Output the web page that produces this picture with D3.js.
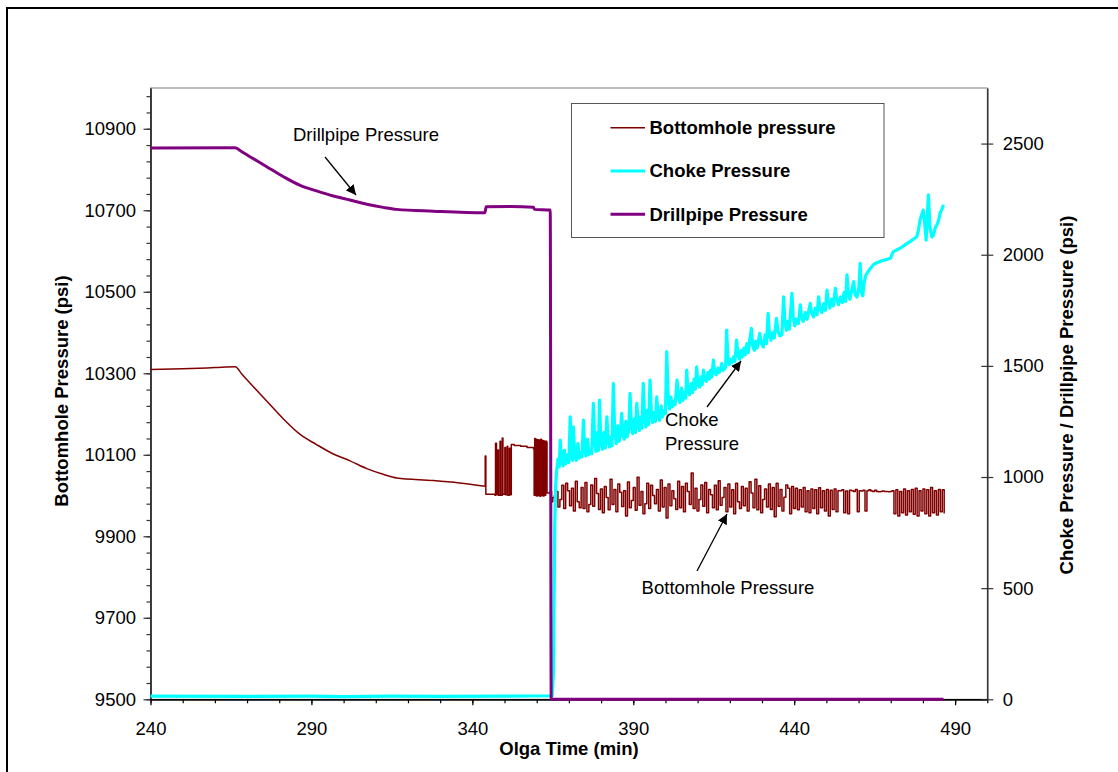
<!DOCTYPE html>
<html>
<head>
<meta charset="utf-8">
<script src="https://cdn.jsdelivr.net/npm/d3@7"></script>
<style>
  body { margin: 0; background: #fff; }
  text { font-family: "Liberation Sans", Arial, sans-serif; }
</style>
</head>
<body>
<div id="vis"></div>
<script>
var totalWidth = 1118;
var totalHeight = 772;
var plot = {left: 150.5, right: 987.3, top: 88, bottom: 699.3};
var fontSize = 18.5;

// tick values
var timeTicks = [240, 290, 340, 390, 440, 490];
var bhpTicks = [9500, 9700, 9900, 10100, 10300, 10500, 10700, 10900];
var psiTicks = [0, 500, 1000, 1500, 2000, 2500];

// bottomhole pressure (psi, left axis), [time, value]
var bhpSmooth = [[240, 10309], [250, 10311], [260, 10314], [266.3, 10316], [268.5, 10297],
  [270.9, 10276], [276.1, 10232], [281.3, 10188], [286.5, 10150], [291.6, 10125],
  [296.8, 10102], [302, 10085], [307.2, 10066], [312.3, 10052], [316.5, 10043],
  [327.9, 10037], [336, 10031], [343.9, 10023]];

var bhpSpikes = [[343.9, 10023], [344.0, 10097], [344.2, 10003], [347.0, 10001], [347.2, 10128], [347.5, 10002],
  [347.9, 10112], [348.1, 10001], [348.6, 10133], [348.8, 10001], [349.3, 10141], [349.5, 10003],
  [350.1, 10118], [350.3, 10002], [350.8, 10121], [351.0, 10001], [351.5, 10116], [351.7, 10002],
  [352.1, 10125], [353, 10123], [355, 10121], [357, 10118], [359.0, 10114], [359.2, 10001],
  [359.4, 10140], [359.6, 10000], [359.8, 10138], [360.0, 9999], [360.3, 10137], [360.5, 10000],
  [360.8, 10136], [361.0, 9998], [361.3, 10138], [361.5, 10000], [361.8, 10135], [362.0, 9999],
  [362.3, 10134], [362.5, 10001], [362.8, 10133], [363.1, 10130], [363.2, 10006], [364.1, 10010],
  [364.6, 9985], [365.0, 9995], [365.5, 10000]];

// sampled every 0.6 min from 366.0
var bhpNoiseStart = 366.0;
var bhpNoiseStep = 0.6;
var bhpNoise = [
  10010, 9972, 9990, 10025, 9968, 10030, 10012, 9975, 10018, 9962,
  10035, 9985, 9970, 10020, 9968, 10032, 9960, 9978, 10026, 9974,
  10042, 10005, 9966, 10016, 9958, 10022, 9995, 9965, 10040, 9978,
  10015, 9960, 10028, 10008, 9973, 10012, 9950, 10033, 9970, 9988,
  10020, 9964, 10045, 9976, 10010, 9955, 9980, 10030, 9968, 10025,
  10000, 9980, 10015, 9962, 10038, 9972, 10020, 9945, 10028, 9975,
  10012, 9992, 9966, 10035, 9970, 10022, 9960, 10030, 10010, 9978,
  10055, 9968, 10018, 9962, 9990, 10026, 9974, 10032, 9958, 10015,
  10002, 9970, 10025, 9965, 10036, 9976, 9995, 10020, 9960, 10028,
  9972, 10014, 9955, 10030, 9985, 9968, 10022, 9975, 10018, 9962,
  10034, 10006, 9970, 10040, 9965, 10024, 9958, 9990, 10016, 9972,
  10028, 9966, 10020, 9948, 10030, 9974, 10015, 9962, 9996, 10026,
  10018, 9955, 10022, 9968,
  10018, 9965, 10014, 9972, 10020, 9960, 10012, 9958, 10016, 9968,
  10014, 9955, 10019, 9970, 10012, 9962, 10015, 9950, 10013, 9966,
  10016, 9960, 10012,
  10012, 10014, 9958, 10011, 9955, 10013, 10012, 10010, 10015, 9960,
  10012, 10011, 10013, 9962, 10012, 10014, 10011,
  10010, 10013, 10010, 10009, 10010, 10011, 10010, 10010, 10009, 10010,
  10012, 9955, 10014, 9950, 10010, 9958, 10016, 9952, 10012, 9960,
  10015, 9954, 10018, 9950, 10012, 9962, 10016, 9955, 10014, 9950,
  10020, 9958, 10012, 9952, 10015, 9960, 10014, 9956];

// choke pressure (psi, right axis), [time, value]
var chokeFlat = [[240, 14], [270, 13], [290, 14], [300, 12], [315, 14], [330, 13],
  [350, 14], [364.8, 16]];

var chokeRise = [[365.2, 120], [365.4, 450], [365.6, 780], [365.9, 960], [366.2, 1030],
  [366.6, 1080], [367.0, 1045], [367.3, 1166], [367.7, 1075], [368.2, 1050], [368.6, 1120],
  [369.0, 1060], [369.5, 1100], [370.0, 1065], [370.4, 1271], [370.8, 1120], [371.1, 1075],
  [371.4, 1226], [371.8, 1095], [372.3, 1075], [372.8, 1150], [373.2, 1085], [373.7, 1110],
  [374.1, 1090], [374.5, 1256], [374.9, 1130], [375.3, 1095], [375.8, 1170], [376.2, 1100],
  [376.7, 1120], [377.1, 1105], [377.6, 1331], [378.0, 1160], [378.4, 1115], [378.9, 1200],
  [379.2, 1120], [379.5, 1346], [379.9, 1170], [380.4, 1125], [380.9, 1200], [381.3, 1130],
  [381.8, 1271], [382.2, 1160], [382.6, 1135], [383.0, 1180], [383.4, 1140], [383.8, 1421],
  [384.2, 1220], [384.7, 1150], [385.2, 1230], [385.6, 1160], [386.0, 1190], [386.4, 1286],
  [386.8, 1190], [387.2, 1170], [387.7, 1250], [388.1, 1180], [388.6, 1210], [389.0, 1376],
  [389.4, 1240], [389.8, 1195], [390.3, 1260], [390.7, 1200], [391.1, 1331], [391.5, 1240],
  [391.9, 1210], [392.3, 1270], [392.7, 1220], [393.1, 1421], [393.5, 1280], [393.9, 1225],
  [394.4, 1300], [394.8, 1235], [395.2, 1436], [395.6, 1300], [396.0, 1245], [396.5, 1290],
  [396.9, 1250], [397.3, 1361], [397.7, 1280], [398.2, 1255], [398.7, 1320], [399.1, 1270],
  [399.6, 1300], [400.0, 1285], [400.4, 1564], [400.8, 1380], [401.2, 1305], [401.7, 1360],
  [402.1, 1315], [402.6, 1340], [403.0, 1325], [403.6, 1436], [404.0, 1360], [404.5, 1335],
  [405.0, 1400], [405.4, 1345], [405.9, 1380], [406.3, 1355], [406.6, 1481], [407.0, 1390],
  [407.5, 1370], [408.0, 1420], [408.4, 1380], [408.9, 1440], [409.3, 1395], [409.7, 1496],
  [410.1, 1420], [410.6, 1405], [411.0, 1450], [411.4, 1415], [411.8, 1481], [412.2, 1440],
  [412.7, 1430], [413.2, 1470], [413.6, 1440], [414.0, 1480], [414.4, 1450], [414.9, 1526],
  [415.3, 1470], [415.8, 1460], [416.3, 1490], [416.7, 1470], [417.1, 1480], [417.5, 1511],
  [417.9, 1480], [418.3, 1485], [418.7, 1495], [419.0, 1661], [419.4, 1540], [419.8, 1505],
  [420.3, 1530], [420.7, 1515], [421.2, 1540], [421.6, 1520], [422.1, 1616], [422.5, 1550],
  [423.0, 1530], [423.5, 1570], [423.9, 1540], [424.4, 1580], [424.8, 1550], [425.3, 1600],
  [425.7, 1560], [426.7, 1669], [427.1, 1590], [427.6, 1570], [428.0, 1610], [428.5, 1580],
  [429.3, 1646], [429.8, 1600], [430.4, 1585], [431.0, 1640], [431.4, 1600], [431.9, 1736],
  [432.3, 1640], [432.8, 1615], [433.3, 1650], [433.8, 1625], [434.5, 1714], [434.9, 1660],
  [435.5, 1635], [436.2, 1640], [436.7, 1811], [437.1, 1700], [437.6, 1660], [438.0, 1700],
  [438.5, 1665], [439.3, 1826], [439.7, 1720], [440.2, 1680], [440.7, 1710], [441.3, 1690],
  [441.9, 1774], [442.3, 1720], [442.8, 1700], [443.4, 1740], [444.0, 1710], [445.0, 1781],
  [445.4, 1740], [446.0, 1720], [446.6, 1760], [447.1, 1730], [447.6, 1811], [448.0, 1760],
  [448.6, 1740], [449.2, 1780], [449.7, 1750], [450.2, 1841], [450.6, 1790], [451.1, 1760],
  [451.6, 1800], [452.2, 1770], [452.8, 1849], [453.2, 1800], [453.8, 1775], [454.4, 1810],
  [455.0, 1785], [455.5, 1830], [456.0, 1790], [456.4, 1909], [456.8, 1830], [457.3, 1800],
  [457.9, 1840], [458.5, 1879], [458.9, 1820], [459.5, 1810], [460.1, 1850], [460.5, 1961],
  [460.9, 1830], [461.3, 1815], [461.8, 1880], [462.3, 1909], [463.5, 1935], [464.6, 1955],
  [465.7, 1964], [467.0, 1972], [468.8, 1979], [469.9, 1984], [470.8, 2014], [472.9, 2029],
  [474.5, 2045], [476.0, 2059], [478.1, 2081], [478.6, 2110], [479.1, 2156], [479.6, 2180],
  [480.1, 2201], [480.5, 2150], [481.0, 2066], [481.4, 2180], [481.7, 2269], [482.0, 2180],
  [482.2, 2120], [482.8, 2080], [483.3, 2089], [483.8, 2120], [484.3, 2134], [484.8, 2150],
  [485.3, 2186], [485.9, 2205], [486.4, 2224]];

// drillpipe pressure (psi, right axis), [time, value]
var drillpipe = [[240, 2480], [266.3, 2481], [268.5, 2462], [270.9, 2441], [276.1, 2396],
  [281.3, 2351], [286.5, 2312], [291.6, 2287], [296.8, 2264], [302, 2246], [307.2, 2227],
  [312.3, 2213], [316.5, 2204], [327.9, 2196], [343.9, 2189], [344.3, 2216], [352, 2217],
  [359, 2213], [359.3, 2204], [364.2, 2201], [364.5, 0], [486.4, 0]];

var seriesNames = ["Bottomhole pressure", "Choke Pressure", "Drillpipe Pressure"];
var seriesColors = ["#800000", "#00ffff", "#800080"];
var seriesWidths = [1.5, 3.2, 3];

var bhpNoisy = bhpSpikes.concat(
  bhpNoise.map(function(v, i) { return [bhpNoiseStart + i * bhpNoiseStep, v]; }));
var chokeData = chokeFlat.concat(chokeRise);

var x_scale = d3.scaleLinear().domain([240, 500]).range([plot.left, plot.right]);
var y_left = d3.scaleLinear().domain([9500, 11000]).range([plot.bottom, plot.top]);
var y_right = d3.scaleLinear().domain([0, 2750]).range([plot.bottom, plot.top]);

var svg = d3.select("#vis").append("svg")
  .attr("width", totalWidth)
  .attr("height", totalHeight);

// outer frame
svg.append("rect")
  .attr("x", 7).attr("y", 8)
  .attr("width", 1300).attr("height", 1000)
  .attr("fill", "none").attr("stroke", "#000").attr("stroke-width", 2);

// plot area border
svg.append("rect")
  .attr("x", plot.left).attr("y", plot.top)
  .attr("width", plot.right - plot.left).attr("height", plot.bottom - plot.top)
  .attr("fill", "none").attr("stroke", "#808080").attr("stroke-width", 1);

function style_axis(g, color) {
  g.select(".domain").attr("stroke", color).attr("stroke-width", 1.5);
  g.selectAll(".tick line").attr("stroke", color).attr("stroke-width", 1.2);
  g.selectAll("text")
    .attr("font-family", "'Liberation Sans', Arial, sans-serif")
    .attr("font-size", fontSize)
    .attr("fill", "#000");
}

var plain = d3.format("d");

// left axis
var left_minor = svg.append("g").attr("transform", "translate(" + plot.left + ",0)")
  .call(d3.axisLeft(y_left).tickValues(d3.range(9500, 11001, 40)).tickSize(4).tickSizeOuter(0).tickFormat(""));
style_axis(left_minor, "#333");
var left_axis = svg.append("g").attr("transform", "translate(" + plot.left + ",0)")
  .call(d3.axisLeft(y_left).tickValues(bhpTicks).tickSize(7).tickSizeOuter(0).tickPadding(7.5).tickFormat(plain));
style_axis(left_axis, "#333");

// bottom axis
var bottom_minor = svg.append("g").attr("transform", "translate(0," + plot.bottom + ")")
  .call(d3.axisBottom(x_scale).tickValues(d3.range(240, 501, 10)).tickSize(4).tickSizeOuter(0).tickFormat(""));
style_axis(bottom_minor, "#000");
var bottom_axis = svg.append("g").attr("transform", "translate(0," + plot.bottom + ")")
  .call(d3.axisBottom(x_scale).tickValues(timeTicks).tickSize(6).tickSizeOuter(0).tickPadding(16.4).tickFormat(plain));
style_axis(bottom_axis, "#000");

// right axis, ticks cross the line
var right_axis = svg.append("g").attr("transform", "translate(" + plot.right + ",0)")
  .call(d3.axisRight(y_right).tickValues(psiTicks).tickSize(6).tickSizeOuter(0).tickPadding(9.4).tickFormat(plain));
right_axis.selectAll(".tick line").attr("x1", -6);
style_axis(right_axis, "#333");

// axis titles
svg.append("text")
  .attr("x", 569).attr("y", 755)
  .attr("text-anchor", "middle").attr("font-weight", "bold").attr("font-size", fontSize)
  .text("Olga Time (min)");
svg.append("text")
  .attr("transform", "translate(68,391) rotate(-90)")
  .attr("text-anchor", "middle").attr("font-weight", "bold").attr("font-size", fontSize)
  .text("Bottomhole Pressure (psi)");
svg.append("text")
  .attr("transform", "translate(1073,395) rotate(-90)")
  .attr("text-anchor", "middle").attr("font-weight", "bold").attr("font-size", fontSize)
  .text("Choke Pressure / Drillpipe Pressure (psi)");

// series
var smooth_left = d3.line().curve(d3.curveMonotoneX).x(d => x_scale(d[0])).y(d => y_left(d[1]));
var step_left = d3.line().curve(d3.curveStepAfter).x(d => x_scale(d[0])).y(d => y_left(d[1]));
var line_right = d3.line().x(d => x_scale(d[0])).y(d => y_right(d[1]));
var smooth_right = d3.line().curve(d3.curveMonotoneX).x(d => x_scale(d[0])).y(d => y_right(d[1]));

var paths = [
  {d: smooth_left(bhpSmooth), i: 0},
  {d: step_left(bhpNoisy), i: 0},
  {d: line_right(chokeData), i: 1},
  {d: smooth_right(drillpipe), i: 2}
];
paths.forEach(function(p) {
  svg.append("path")
    .attr("d", p.d)
    .attr("fill", "none")
    .attr("stroke", seriesColors[p.i])
    .attr("stroke-width", seriesWidths[p.i])
    .attr("stroke-linejoin", "round");
});

// legend
var legend = svg.append("g");
legend.append("rect")
  .attr("x", 571.5).attr("y", 103.5).attr("width", 312.5).attr("height", 134)
  .attr("fill", "#fff").attr("stroke", "#555").attr("stroke-width", 1);
var legend_items = legend.selectAll(".legend-item")
  .data(seriesNames)
  .enter().append("g")
  .attr("class", "legend-item")
  .attr("transform", (d, i) => "translate(0," + (127.7 + i * 43.3) + ")");
legend_items.append("line")
  .attr("x1", 610.5).attr("x2", 645)
  .attr("stroke", (d, i) => seriesColors[i])
  .attr("stroke-width", (d, i) => seriesWidths[i]);
legend_items.append("text")
  .attr("x", 649.5).attr("dy", "0.35em")
  .attr("font-weight", "bold").attr("font-size", fontSize)
  .text(d => d);

// annotations
svg.append("defs").append("marker")
  .attr("id", "arrow")
  .attr("viewBox", "0 0 10 10")
  .attr("refX", 10).attr("refY", 5)
  .attr("markerWidth", 10).attr("markerHeight", 10)
  .attr("markerUnits", "userSpaceOnUse")
  .attr("orient", "auto")
  .append("path").attr("d", "M0,0 L10,5 L0,10 z").attr("fill", "#000");

var notes = [
  {lines: ["Drillpipe Pressure"], x: 366, y: 141, anchor: "middle", arrow: [325, 157, 356, 195]},
  {lines: ["Choke", "Pressure"], x: 665, y: 426, anchor: "start", arrow: [707, 407, 741, 361]},
  {lines: ["Bottomhole Pressure"], x: 728, y: 594, anchor: "middle", arrow: [697, 571, 727, 514]}
];
notes.forEach(function(n) {
  var t = svg.append("text")
    .attr("x", n.x).attr("y", n.y)
    .attr("text-anchor", n.anchor).attr("font-size", fontSize);
  n.lines.forEach(function(l, i) {
    t.append("tspan").attr("x", n.x).attr("dy", i === 0 ? 0 : 23.5).text(l);
  });
  svg.append("line")
    .attr("x1", n.arrow[0]).attr("y1", n.arrow[1])
    .attr("x2", n.arrow[2]).attr("y2", n.arrow[3])
    .attr("stroke", "#000").attr("stroke-width", 1.3)
    .attr("marker-end", "url(#arrow)");
});
</script>
</body>
</html>
